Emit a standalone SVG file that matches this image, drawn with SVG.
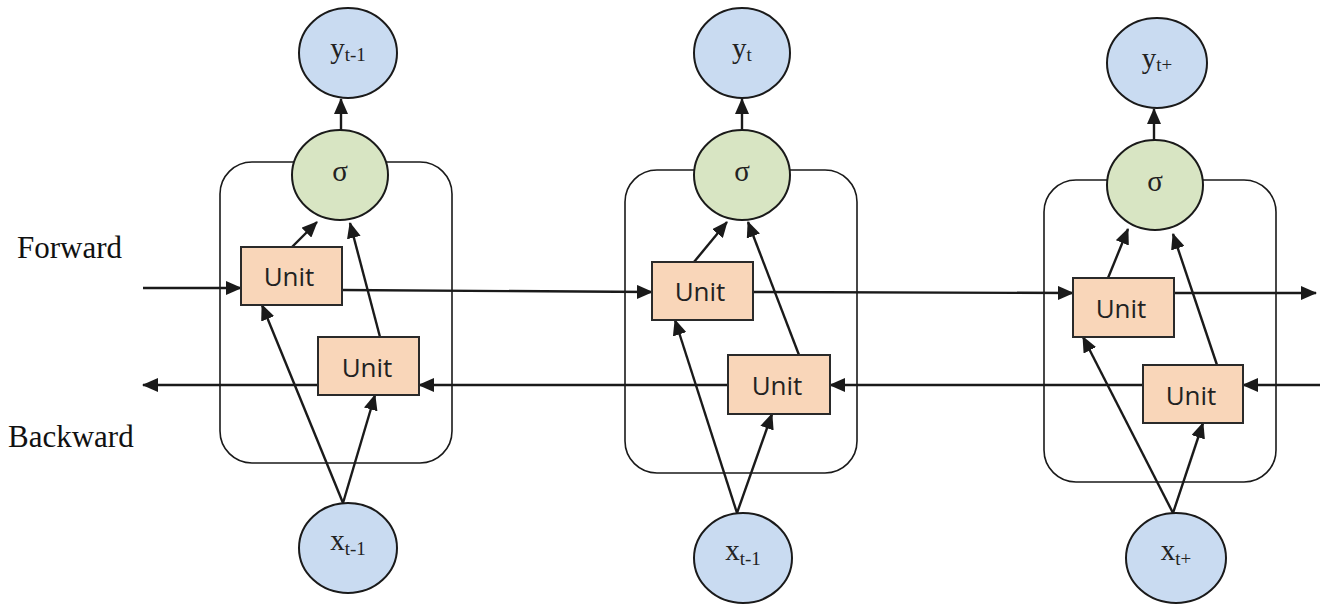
<svg xmlns="http://www.w3.org/2000/svg" width="1320" height="605" viewBox="0 0 1320 605">
<defs>
<marker id="ah" viewBox="0 0 16 14" refX="15" refY="7" markerWidth="16" markerHeight="14" markerUnits="userSpaceOnUse" orient="auto">
<path d="M0,0 L16,7 L0,14 Z" fill="#1a1a1a"/>
</marker>
<style>
.frame{fill:none;stroke:#1a1a1a;stroke-width:1.6}
.io{fill:#c9dbf1;stroke:#1a1a1a;stroke-width:2}
.sig{fill:#d8e5c3;stroke:#1a1a1a;stroke-width:2}
.unit{fill:#f9d6b9;stroke:#2a2a2a;stroke-width:2}
.ut{font-family:"Open Sans","DejaVu Sans",sans-serif;font-size:26px;fill:#222;text-anchor:middle}
.st{font-family:"Liberation Serif","Times New Roman",serif;font-size:29px;fill:#222;text-anchor:middle}
.sub{font-size:19px}
.lbl{font-family:"Liberation Serif","Times New Roman",serif;font-size:31px;fill:#111}
.ar{fill:none;stroke:#1a1a1a;stroke-width:2.4;marker-end:url(#ah)}
</style>
</defs>
<rect width="1320" height="605" fill="#ffffff"/>

<g id="labels">
<text class="lbl" x="17" y="258">Forward</text>
<text class="lbl" x="8" y="447">Backward</text>
</g>

<g id="frames">
<rect id="frame1" class="frame" x="220" y="162" width="232" height="301" rx="32" ry="32"/>
<rect id="frame2" class="frame" x="625" y="170" width="232" height="303" rx="32" ry="32"/>
<rect id="frame3" class="frame" x="1044" y="180" width="232" height="302" rx="32" ry="32"/>
</g>

<g id="connectors">
<path class="ar" d="M341,130 L341,99"/>
<path class="ar" d="M742,130 L742,99"/>
<path class="ar" d="M1154,140 L1154,109"/>
<path class="ar" d="M292,247 L317,222"/>
<path class="ar" d="M380,337 L350,223"/>
<path class="ar" d="M694,262 L727,222"/>
<path class="ar" d="M799,355 L748,222"/>
<path class="ar" d="M1108,278 L1128,229"/>
<path class="ar" d="M1217,365 L1173,234"/>
<path class="ar" d="M343,503 L262,305"/>
<path class="ar" d="M343,503 L375,395"/>
<path class="ar" d="M737,513 L675,320"/>
<path class="ar" d="M737,513 L772,414"/>
<path class="ar" d="M1173,513 L1083,337"/>
<path class="ar" d="M1173,513 L1203,423"/>
<path class="ar" d="M143,288 L241,288"/>
<path class="ar" d="M342,290 L652,292"/>
<path class="ar" d="M753,292 L1073,293"/>
<path class="ar" d="M1174,293 L1316,293"/>
<path class="ar" d="M1320,385 L1243,385"/>
<path class="ar" d="M1143,385 L830,385"/>
<path class="ar" d="M728,385 L419,385"/>
<path class="ar" d="M318,385 L143,385"/>
</g>

<g id="y1"><ellipse class="io" cx="348" cy="53" rx="49" ry="45"/><text class="st" x="348" y="58">y<tspan class="sub" dy="3">t-1</tspan></text></g>
<g id="y2"><ellipse class="io" cx="742" cy="53" rx="48" ry="45"/><text class="st" x="742" y="58">y<tspan class="sub" dy="3">t</tspan></text></g>
<g id="y3"><ellipse class="io" cx="1157" cy="63" rx="50" ry="45"/><text class="st" x="1157" y="68">y<tspan class="sub" dy="3">t+</tspan></text></g>

<g id="s1"><ellipse class="sig" cx="340" cy="175" rx="48" ry="45"/><text class="st" x="340" y="181">σ</text></g>
<g id="s2"><ellipse class="sig" cx="742" cy="175" rx="48" ry="45"/><text class="st" x="742" y="181">σ</text></g>
<g id="s3"><ellipse class="sig" cx="1155" cy="185" rx="48" ry="45"/><text class="st" x="1155" y="191">σ</text></g>

<g id="f1"><rect class="unit" x="241" y="247" width="101" height="58"/><text class="ut" x="289" y="286">Unit</text></g>
<g id="b1"><rect class="unit" x="318" y="337" width="101" height="58"/><text class="ut" x="367" y="377">Unit</text></g>
<g id="f2"><rect class="unit" x="652" y="262" width="101" height="58"/><text class="ut" x="700" y="301">Unit</text></g>
<g id="b2"><rect class="unit" x="728" y="355" width="102" height="59"/><text class="ut" x="777" y="395">Unit</text></g>
<g id="f3"><rect class="unit" x="1073" y="278" width="101" height="59"/><text class="ut" x="1121" y="318">Unit</text></g>
<g id="b3"><rect class="unit" x="1143" y="365" width="100" height="58"/><text class="ut" x="1191" y="405">Unit</text></g>

<g id="x1"><ellipse class="io" cx="348" cy="548" rx="49" ry="45"/><text class="st" x="348" y="550">x<tspan class="sub" dy="5">t-1</tspan></text></g>
<g id="x2"><ellipse class="io" cx="743" cy="558" rx="49" ry="45"/><text class="st" x="743" y="560">x<tspan class="sub" dy="5">t-1</tspan></text></g>
<g id="x3"><ellipse class="io" cx="1176" cy="558" rx="50" ry="45"/><text class="st" x="1176" y="560">x<tspan class="sub" dy="5">t+</tspan></text></g>
</svg>
